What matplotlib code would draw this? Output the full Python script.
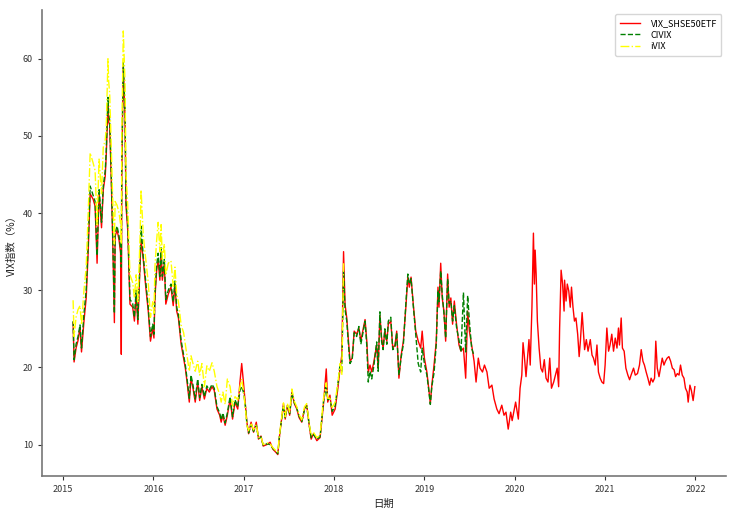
import pandas as pd
import matplotlib
matplotlib.use("Agg")
import matplotlib.pyplot as plt

plt.rcParams["font.family"] = ["Noto Sans CJK SC", "DejaVu Sans"]
plt.rcParams["axes.unicode_minus"] = False

# ========================
# DONNEES
# ========================

DATES = [
    # 2015
    "2015-02-10", "2015-02-14", "2015-02-22", "2015-03-02", "2015-03-10", "2015-03-16",
    "2015-03-26", "2015-04-04", "2015-04-12", "2015-04-20", "2015-05-02", "2015-05-10",
    "2015-05-18", "2015-05-26", "2015-06-05", "2015-06-12", "2015-06-20", "2015-06-24",
    "2015-07-01", "2015-07-04", "2015-07-08", "2015-07-14", "2015-07-20", "2015-07-27",
    "2015-07-30", "2015-08-07", "2015-08-15", "2015-08-21", "2015-08-24", "2015-08-26",
    "2015-09-01", "2015-09-08", "2015-09-12", "2015-09-19", "2015-09-28", "2015-10-09",
    "2015-10-16", "2015-10-23", "2015-10-30", "2015-11-08", "2015-11-12", "2015-11-21",
    "2015-12-01", "2015-12-11", "2015-12-20", "2015-12-29",
    # 2016
    "2016-01-03", "2016-01-07", "2016-01-14", "2016-01-20", "2016-01-27", "2016-02-01",
    "2016-02-06", "2016-02-14", "2016-02-20", "2016-03-01", "2016-03-12", "2016-03-21",
    "2016-03-28", "2016-04-04", "2016-04-11", "2016-04-22", "2016-05-02", "2016-05-09",
    "2016-05-16", "2016-05-25", "2016-06-01", "2016-06-09", "2016-06-18", "2016-06-28",
    "2016-07-06", "2016-07-15", "2016-07-25", "2016-08-04", "2016-08-14", "2016-08-25",
    "2016-09-03", "2016-09-14", "2016-09-25", "2016-10-01", "2016-10-08", "2016-10-17",
    "2016-10-26", "2016-11-06", "2016-11-16", "2016-11-26", "2016-12-07", "2016-12-16",
    "2016-12-23", "2016-12-30",
    # 2017
    "2017-01-06", "2017-01-13", "2017-01-20", "2017-01-30", "2017-02-09", "2017-02-20",
    "2017-03-01", "2017-03-11", "2017-03-20", "2017-04-04", "2017-04-17", "2017-04-28",
    "2017-05-10", "2017-05-18", "2017-05-25", "2017-06-04", "2017-06-10", "2017-06-17",
    "2017-06-26", "2017-07-05", "2017-07-14", "2017-07-24", "2017-08-03", "2017-08-12",
    "2017-08-23", "2017-09-03", "2017-09-12", "2017-09-22", "2017-09-30", "2017-10-09",
    "2017-10-23", "2017-11-05", "2017-11-19", "2017-11-30", "2017-12-06", "2017-12-15",
    "2017-12-24",
    # 2018
    "2018-01-05", "2018-01-16", "2018-01-25", "2018-02-01", "2018-02-08", "2018-02-14",
    "2018-02-21", "2018-02-27", "2018-03-06", "2018-03-15", "2018-03-23", "2018-04-02",
    "2018-04-11", "2018-04-19", "2018-04-29", "2018-05-06", "2018-05-13", "2018-05-19",
    "2018-05-26", "2018-06-02", "2018-06-11", "2018-06-22", "2018-06-28", "2018-07-05",
    "2018-07-12", "2018-07-18", "2018-07-25", "2018-08-02", "2018-08-08", "2018-08-18",
    "2018-08-26", "2018-09-04", "2018-09-11", "2018-09-20", "2018-09-29", "2018-10-08",
    "2018-10-18", "2018-10-26", "2018-11-01", "2018-11-08", "2018-11-17", "2018-11-27",
    "2018-12-07", "2018-12-17", "2018-12-23",
    # 2019
    "2019-01-01", "2019-01-11", "2019-01-17", "2019-01-25", "2019-01-31", "2019-02-09",
    "2019-02-18", "2019-02-25", "2019-03-01", "2019-03-08", "2019-03-14", "2019-03-21",
    "2019-03-28", "2019-04-05", "2019-04-11", "2019-04-18", "2019-04-25", "2019-05-02",
    "2019-05-11", "2019-05-21", "2019-05-29", "2019-06-08", "2019-06-17", "2019-06-25",
    "2019-07-02", "2019-07-11", "2019-07-21", "2019-07-29", "2019-08-07", "2019-08-14",
    "2019-08-24", "2019-09-01", "2019-09-11", "2019-09-20", "2019-10-01", "2019-10-10",
    "2019-10-21", "2019-10-30", "2019-11-10", "2019-11-19", "2019-11-27", "2019-12-06",
    "2019-12-16", "2019-12-22",
    # 2020
    "2020-01-05", "2020-01-16", "2020-01-23", "2020-01-30", "2020-02-04", "2020-02-09",
    "2020-02-16", "2020-02-23", "2020-02-28", "2020-03-04", "2020-03-11", "2020-03-15",
    "2020-03-17", "2020-03-21", "2020-03-24", "2020-03-28", "2020-04-02", "2020-04-09",
    "2020-04-16", "2020-04-23", "2020-04-30", "2020-05-07", "2020-05-15", "2020-05-22",
    "2020-05-29", "2020-06-07", "2020-06-14", "2020-06-21", "2020-06-27", "2020-07-01",
    "2020-07-07", "2020-07-13", "2020-07-19", "2020-07-21", "2020-07-27", "2020-08-01",
    "2020-08-07", "2020-08-13", "2020-08-18", "2020-08-24", "2020-08-30", "2020-09-05",
    "2020-09-12", "2020-09-18", "2020-09-23", "2020-09-30", "2020-10-05", "2020-10-10",
    "2020-10-17", "2020-10-24", "2020-11-02", "2020-11-09", "2020-11-15", "2020-11-22",
    "2020-11-29", "2020-12-05", "2020-12-12", "2020-12-19", "2020-12-26",
    # 2021
    "2021-01-01", "2021-01-08", "2021-01-15", "2021-01-21", "2021-01-28", "2021-02-04",
    "2021-02-11", "2021-02-18", "2021-02-24", "2021-02-28", "2021-03-07", "2021-03-12",
    "2021-03-19", "2021-03-26", "2021-04-03", "2021-04-10", "2021-04-16", "2021-04-26",
    "2021-05-03", "2021-05-12", "2021-05-20", "2021-05-27", "2021-06-03", "2021-06-09",
    "2021-06-16", "2021-06-23", "2021-06-30", "2021-07-06", "2021-07-13", "2021-07-20",
    "2021-07-25", "2021-07-31", "2021-08-07", "2021-08-13", "2021-08-20", "2021-08-27",
    "2021-09-02", "2021-09-09", "2021-09-16", "2021-09-23", "2021-09-30", "2021-10-07",
    "2021-10-13", "2021-10-20", "2021-10-27", "2021-11-02", "2021-11-09", "2021-11-16",
    "2021-11-22", "2021-11-29", "2021-12-03", "2021-12-10", "2021-12-16", "2021-12-23",
    "2021-12-30",
]

# VIX calcule sur l'ETF SHSE 50 (toute la periode)
VIX_SHSE50ETF = [
    # 2015
    25.8, 20.7, 22.5, 23.5, 25.2, 22.0, 26.0, 29.0, 35.0, 42.5, 41.8, 40.9,
    33.5, 42.8, 38.1, 43.0, 44.8, 47.4, 54.0, 51.8, 51.4, 44.8, 36.9, 25.8,
    37.0, 37.8, 36.5, 34.8, 21.7, 45.0, 59.3, 52.3, 40.9, 37.8, 28.2, 27.8,
    26.0, 29.5, 25.6, 33.5, 36.5, 33.9, 30.4, 27.3, 23.4, 25.1,
    # 2016
    23.8, 29.0, 32.6, 33.9, 31.3, 35.0, 31.3, 33.5, 28.2, 29.5, 30.4, 28.0,
    30.8, 27.3, 26.4, 23.0, 21.2, 19.9, 18.1, 15.5, 18.6, 17.3, 15.5, 18.1,
    15.7, 17.5, 15.9, 17.3, 16.8, 17.5, 17.0, 14.6, 13.8, 12.9, 13.8, 12.5,
    13.8, 15.9, 13.3, 15.5, 14.6, 18.1, 20.5, 18.1,
    # 2017
    15.5, 12.9, 11.4, 12.9, 11.6, 12.9, 10.7, 11.1, 9.8, 10.0, 10.3, 9.4,
    9.0, 8.7, 11.1, 13.8, 15.3, 13.3, 15.1, 13.8, 16.8, 15.3, 14.6, 13.5,
    12.9, 14.6, 15.1, 12.5, 10.7, 11.4, 10.5, 10.9, 15.3, 19.8, 15.5, 16.4,
    13.8,
    # 2018
    14.6, 17.3, 19.9, 21.6, 35.0, 28.2, 26.4, 23.8, 20.8, 21.2, 24.7, 24.3,
    25.1, 23.4, 25.1, 26.2, 23.4, 19.4, 20.3, 19.4, 20.8, 22.9, 19.9, 26.7,
    23.8, 22.5, 24.7, 23.4, 25.6, 26.0, 22.5, 22.9, 24.7, 18.6, 21.6, 23.4,
    27.8, 31.7, 30.4, 31.7, 28.2, 24.7, 23.4, 22.5, 24.7,
    # 2019
    21.2, 19.4, 17.7, 15.3, 17.7, 20.3, 23.4, 30.4, 27.8, 33.5, 29.0, 27.3,
    23.4, 32.1, 27.8, 29.0, 25.6, 28.6, 25.6, 22.9, 22.1, 22.5, 18.6, 27.3,
    24.7, 22.9, 20.8, 18.1, 21.2, 19.9, 19.4, 20.3, 19.4, 17.3, 17.7, 15.9,
    14.6, 14.0, 15.1, 13.8, 14.2, 12.0, 14.2, 13.1,
    # 2020
    15.5, 13.3, 17.3, 19.0, 23.2, 21.6, 18.8, 21.6, 23.6, 20.3, 27.8, 34.5,
    37.4, 30.8, 35.2, 32.1, 26.0, 22.5, 19.9, 19.4, 21.0, 18.6, 18.1, 21.2,
    17.3, 18.1, 19.0, 19.9, 17.5, 25.1, 32.6, 30.8, 27.3, 31.3, 28.6, 30.8,
    29.9, 27.8, 30.4, 27.8, 26.0, 26.4, 24.3, 21.4, 23.4, 27.1, 24.7, 22.3,
    23.6, 22.1, 23.6, 21.6, 21.2, 20.3, 22.9, 19.4, 18.6, 18.1, 17.9,
    # 2021
    20.3, 25.1, 22.1, 22.9, 24.3, 22.1, 23.8, 22.5, 25.1, 22.9, 26.4, 22.5,
    22.1, 19.9, 19.0, 18.4, 19.0, 19.9, 19.0, 19.2, 20.3, 22.3, 20.8, 20.3,
    19.4, 18.6, 17.7, 18.6, 18.1, 18.6, 23.4, 19.9, 18.8, 19.9, 21.2, 20.3,
    20.8, 21.2, 21.4, 20.8, 19.9, 19.7, 18.8, 19.2, 19.0, 20.3, 19.0, 18.6,
    17.3, 16.8, 15.5, 17.7, 17.0, 15.7, 17.5,
]

# CIVIX (publie jusqu'a juillet 2019)
CIVIX = [
    # 2015
    26.0, 21.0, 23.0, 24.0, 25.5, 22.5, 27.0, 30.0, 36.0, 43.5, 42.3, 41.5,
    34.5, 43.2, 38.8, 43.5, 45.5, 48.0, 55.0, 53.0, 52.0, 45.5, 37.5, 27.0,
    37.5, 38.3, 37.0, 35.5, 33.0, 46.0, 59.5, 53.0, 41.5, 38.5, 28.8, 28.3,
    26.5, 30.0, 26.2, 34.0, 38.3, 34.3, 31.0, 27.8, 24.0, 25.6,
    # 2016
    24.3, 29.5, 33.2, 34.8, 31.8, 35.5, 31.8, 34.0, 28.8, 30.0, 30.8, 28.5,
    31.2, 27.8, 26.8, 23.5, 21.6, 20.3, 18.5, 16.0, 19.0, 17.7, 15.9, 18.5,
    16.1, 17.8, 16.2, 17.6, 17.1, 17.8, 17.3, 14.9, 14.1, 13.2, 14.1, 12.8,
    14.1, 16.2, 13.6, 15.8, 14.9, 17.0, 17.5, 16.8,
    # 2017
    15.3, 12.7, 11.5, 12.6, 11.7, 12.5, 10.8, 11.0, 9.9, 10.1, 10.0, 9.5,
    9.1, 8.8, 11.2, 13.6, 15.1, 13.5, 15.0, 14.0, 16.6, 15.4, 14.7, 13.7,
    13.0, 14.5, 15.0, 12.6, 10.9, 11.3, 10.7, 11.0, 15.6, 17.5, 15.8, 16.0,
    14.3,
    # 2018
    15.0, 17.8, 20.5, 19.5, 32.5, 27.5, 26.0, 23.3, 20.5, 21.0, 24.5, 24.0,
    25.3, 23.0, 24.8, 26.0, 22.8, 18.1, 19.5, 18.5, 20.3, 23.3, 19.5, 27.2,
    23.3, 22.3, 25.0, 23.0, 26.0, 26.5, 22.3, 22.6, 24.5, 19.0, 21.3, 23.0,
    28.3, 32.1, 30.8, 31.5, 28.0, 24.3, 20.5, 19.4, 22.5,
    # 2019
    20.5, 19.0, 17.5, 15.2, 17.5, 19.3, 23.0, 30.0, 28.5, 32.5, 29.5, 27.0,
    23.8, 31.5, 28.3, 28.6, 26.0, 28.0, 25.2, 23.5, 22.0, 29.7, 22.0, 29.3,
    26.0, 22.5, 21.5,
]

# iVIX (arrete en fevrier 2018)
IVIX = [
    # 2015
    28.7, 24.0, 26.5, 27.5, 28.0, 25.5, 30.0, 33.0, 40.0, 47.8, 46.5, 45.5,
    38.5, 47.0, 42.5, 48.5, 49.5, 51.0, 60.0, 57.0, 55.5, 49.0, 42.0, 36.0,
    41.5, 41.0, 40.0, 38.5, 36.0, 50.0, 63.6, 57.0, 45.0, 41.0, 32.0, 31.0,
    29.0, 32.0, 28.5, 37.0, 43.0, 37.0, 34.0, 31.0, 26.5, 28.5,
    # 2016
    27.0, 33.0, 36.5, 38.8, 35.0, 38.5, 34.0, 36.0, 32.0, 33.5, 33.8, 30.5,
    33.0, 29.5, 28.5, 25.5, 24.5, 23.0, 21.5, 19.5, 21.5, 20.5, 19.5, 20.8,
    19.0, 20.5, 17.5, 20.2, 19.5, 20.6, 19.5, 17.5, 16.5, 15.5, 16.8, 15.2,
    18.5, 17.5, 15.0, 16.2, 15.8, 17.5, 18.5, 17.0,
    # 2017
    15.0, 12.5, 11.8, 12.8, 11.9, 12.6, 10.9, 11.0, 10.0, 10.2, 10.1, 9.6,
    9.2, 9.0, 11.3, 13.9, 15.4, 13.6, 15.3, 14.2, 17.2, 15.6, 14.9, 13.9,
    13.2, 14.9, 15.3, 12.7, 11.2, 11.6, 10.9, 11.2, 16.0, 18.0, 16.0, 16.0,
    14.8,
    # 2018
    15.5, 18.0, 20.5, 19.0, 33.5,
]


# ========================
# COURBE
# ========================

def plot_vix():
    dates = pd.to_datetime(DATES)

    fig = plt.figure(figsize=(7.37, 5.16), dpi=100)
    ax = fig.add_axes([0.057, 0.078, 0.928, 0.903])

    ax.plot(dates, VIX_SHSE50ETF, color="red", lw=1.0, label="VIX_SHSE50ETF")
    ax.plot(dates[:len(CIVIX)], CIVIX, color="green", lw=1.0, ls="--", label="CIVIX")
    ax.plot(dates[:len(IVIX)], IVIX, color="yellow", lw=1.0, ls="-.", label="iVIX")

    ax.set_xlabel("日期", fontsize=7.5, color="#222222")
    ax.set_ylabel("VIX指数（%）", fontsize=7.5, color="#222222")

    for side in ("top", "right"):
        ax.spines[side].set_visible(False)
    for side in ("left", "bottom"):
        ax.spines[side].set_color("#777777")
        ax.spines[side].set_linewidth(1.2)
    ax.tick_params(labelsize=6.5, colors="#333333", length=3, width=0.8)

    ax.legend(loc="upper right", fontsize=6.5, frameon=True, edgecolor="#cccccc",
              handlelength=2.2, borderpad=0.5, labelspacing=0.3, handletextpad=1.2)

    fig.savefig("out.png", dpi=100)


if __name__ == "__main__":
    plot_vix()
